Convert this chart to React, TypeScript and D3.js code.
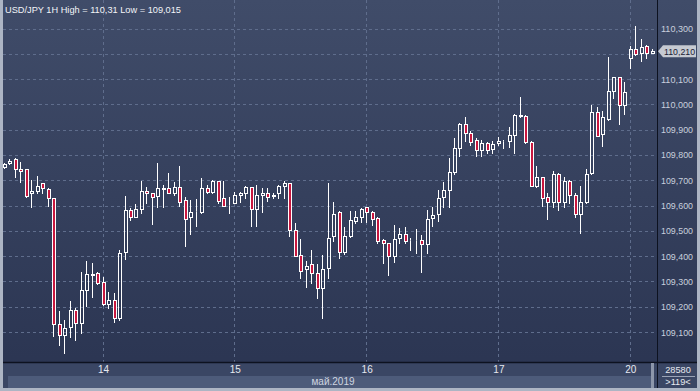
import React from "react";
import * as d3 from "d3";

// ---- data (USD/JPY, 1H candles) ----
const opens = [
  109.752, 109.768, 109.784, 109.745, 109.745, 109.650, 109.658, 109.689, 109.667, 109.630,
  109.132, 109.088, 109.120, 109.187, 109.136, 109.266, 109.329, 109.333, 109.298, 109.211,
  109.227, 109.156, 109.416, 109.582, 109.555, 109.586, 109.658, 109.650, 109.638, 109.667,
  109.669, 109.650, 109.673, 109.622, 109.555, 109.577, 109.575, 109.669, 109.654, 109.697,
  109.630, 109.602, 109.610, 109.642, 109.650, 109.673, 109.586, 109.642, 109.650, 109.640,
  109.650, 109.677, 109.689, 109.503, 109.405, 109.349, 109.369, 109.333, 109.274, 109.353,
  109.480, 109.575, 109.416, 109.480, 109.539, 109.555, 109.594, 109.575, 109.551, 109.464,
  109.452, 109.401, 109.472, 109.488, 109.464, 109.462, 109.464, 109.448, 109.551, 109.567,
  109.634, 109.662, 109.733, 109.828, 109.922, 109.887, 109.859, 109.820, 109.847, 109.824,
  109.847, 109.855, 109.855, 109.879, 109.958, 109.954, 109.851, 109.677, 109.713, 109.634,
  109.614, 109.725, 109.614, 109.697, 109.642, 109.567, 109.614, 109.729, 109.970, 109.883,
  109.942, 110.053, 110.108, 109.998, 110.183, 110.219, 110.203, 110.231, 110.205,
];
const highs = [
  109.768, 109.784, 109.786, 109.772, 109.745, 109.701, 109.717, 109.691, 109.671, 109.630,
  109.183, 109.148, 109.223, 109.195, 109.337, 109.381, 109.373, 109.339, 109.318, 109.258,
  109.254, 109.424, 109.638, 109.590, 109.606, 109.697, 109.673, 109.650, 109.768, 109.681,
  109.729, 109.693, 109.756, 109.634, 109.622, 109.626, 109.709, 109.681, 109.701, 109.697,
  109.697, 109.634, 109.654, 109.654, 109.677, 109.673, 109.681, 109.669, 109.669, 109.650,
  109.681, 109.697, 109.689, 109.531, 109.468, 109.381, 109.424, 109.369, 109.405, 109.689,
  109.614, 109.579, 109.515, 109.579, 109.579, 109.590, 109.594, 109.579, 109.555, 109.468,
  109.452, 109.523, 109.511, 109.515, 109.472, 109.507, 109.484, 109.582, 109.594, 109.662,
  109.693, 109.788, 109.867, 109.926, 109.950, 109.895, 109.867, 109.859, 109.851, 109.855,
  109.871, 109.859, 109.911, 109.962, 110.029, 109.958, 109.855, 109.756, 109.713, 109.650,
  109.737, 109.729, 109.713, 109.701, 109.650, 109.677, 109.745, 109.998, 109.990, 109.974,
  110.187, 110.108, 110.108, 110.088, 110.231, 110.310, 110.258, 110.235, 110.220,
];
const lows = [
  109.748, 109.764, 109.713, 109.693, 109.634, 109.594, 109.650, 109.650, 109.598, 109.084,
  109.049, 109.015, 109.080, 109.068, 109.096, 109.203, 109.239, 109.290, 109.207, 109.195,
  109.140, 109.148, 109.389, 109.543, 109.553, 109.571, 109.610, 109.527, 109.594, 109.594,
  109.648, 109.642, 109.598, 109.440, 109.488, 109.519, 109.571, 109.650, 109.650, 109.610,
  109.598, 109.571, 109.610, 109.614, 109.630, 109.519, 109.519, 109.575, 109.618, 109.630,
  109.630, 109.630, 109.480, 109.401, 109.314, 109.278, 109.294, 109.235, 109.156, 109.314,
  109.460, 109.393, 109.409, 109.476, 109.531, 109.535, 109.535, 109.523, 109.452, 109.373,
  109.326, 109.377, 109.452, 109.452, 109.424, 109.412, 109.337, 109.412, 109.519, 109.539,
  109.594, 109.594, 109.725, 109.796, 109.855, 109.839, 109.796, 109.796, 109.808, 109.808,
  109.839, 109.828, 109.832, 109.808, 109.950, 109.849, 109.677, 109.673, 109.598, 109.547,
  109.594, 109.582, 109.594, 109.610, 109.555, 109.492, 109.610, 109.725, 109.875, 109.835,
  109.938, 110.025, 109.922, 109.962, 110.144, 110.195, 110.171, 110.183, 110.205,
];
const closes = [
  109.764, 109.776, 109.745, 109.737, 109.638, 109.656, 109.677, 109.669, 109.630, 109.132,
  109.088, 109.116, 109.187, 109.136, 109.266, 109.329, 109.327, 109.294, 109.211, 109.227,
  109.156, 109.412, 109.582, 109.555, 109.586, 109.658, 109.650, 109.634, 109.669, 109.671,
  109.650, 109.673, 109.614, 109.547, 109.575, 109.579, 109.669, 109.654, 109.697, 109.618,
  109.598, 109.602, 109.642, 109.650, 109.673, 109.586, 109.642, 109.650, 109.634, 109.638,
  109.677, 109.689, 109.503, 109.401, 109.341, 109.361, 109.333, 109.274, 109.349, 109.472,
  109.567, 109.416, 109.480, 109.543, 109.555, 109.586, 109.575, 109.547, 109.460, 109.452,
  109.401, 109.468, 109.488, 109.460, 109.464, 109.464, 109.448, 109.547, 109.563, 109.630,
  109.662, 109.733, 109.828, 109.922, 109.887, 109.851, 109.820, 109.847, 109.820, 109.843,
  109.855, 109.857, 109.879, 109.958, 109.955, 109.851, 109.677, 109.713, 109.630, 109.614,
  109.725, 109.614, 109.697, 109.642, 109.567, 109.614, 109.725, 109.970, 109.875, 109.950,
  110.053, 110.108, 109.998, 110.049, 110.219, 110.199, 110.227, 110.203, 110.210,
];

// trading sessions: start time and number of hourly bars
const sessionStarts = ["2019-05-13T06:00:00", "2019-05-20T00:00:00"];
const sessionBars = [114, 5];

const priceTicks = [109.1, 109.2, 109.3, 109.4, 109.5, 109.6, 109.7, 109.8, 109.9, 110.0, 110.1, 110.2, 110.3];
const titleText = "USD/JPY 1H High = 110,31 Low = 109,015";
const monthLabel = "май.2019";
const volumeText = "28580";
const barsText = ">119<";
const lastPrice = 110.21;

// ---- layout ----
const W = 700;
const H = 391;
const plotRight = 657;
const plotBottom = 362;
const FONT = "'Liberation Sans', Arial, sans-serif";

const fmt = (v: number) => d3.format(".3f")(v).replace(".", ",");

export default function App() {
  const times: Date[] = [];
  sessionStarts.forEach((s, k) => {
    const t0 = new Date(s);
    for (let j = 0; j < sessionBars[k]; j++) times.push(d3.timeHour.offset(t0, j));
  });
  const n = opens.length;
  const x = d3.scaleLinear().domain([0, n - 1]).range([4.7, 652.7]);
  const y = d3.scaleLinear().domain([109.1, 110.3]).range([332, 28.5]);
  const py = (v: number) => Math.round(y(v)) + 0.5;

  const dayIdx = times.map((t, i) => (t.getHours() === 0 ? i : -1)).filter((i) => i >= 0);

  const candles = d3.range(n).map((i) => {
    const o = opens[i], c = closes[i], h = highs[i], l = lows[i];
    const cx = Math.round(x(i));
    const bull = c >= o;
    const top = py(Math.max(o, c));
    const bot = py(Math.min(o, c));
    const yh = py(h);
    const yl = py(l);
    return (
      <g key={i}>
        {yh < top && <line x1={cx - 0.5} x2={cx - 0.5} y1={yh - 0.5} y2={top} stroke="#ffffff" strokeWidth={1} />}
        {yl > bot && <line x1={cx - 0.5} x2={cx - 0.5} y1={bot} y2={yl + 0.5} stroke="#ffffff" strokeWidth={1} />}
        <rect
          x={cx - 1.5}
          y={top}
          width={3}
          height={Math.max(0, bot - top)}
          fill={bull ? "none" : "#c8173f"}
          stroke="#ffffff"
          strokeWidth={1}
        />
      </g>
    );
  });

  const lp = y(lastPrice);
  const axisTicks = priceTicks.filter((p) => Math.abs(y(p) - lp) > 9);

  return (
    <svg width={W} height={H} style={{ position: "absolute", left: 0, top: 0, display: "block" }} fontFamily={FONT}>
      <defs>
        <linearGradient id="bg" x1="0" y1="0" x2="0" y2="1">
          <stop offset="0%" stopColor="#404c69" />
          <stop offset="100%" stopColor="#2a3451" />
        </linearGradient>
      </defs>
      <rect x={0} y={0} width={W} height={H} fill="url(#bg)" />

      {/* grid */}
      {priceTicks.map((p) => (
        <line key={"h" + p} x1={3} x2={plotRight} y1={py(p)} y2={py(p)} stroke="#5f6d8c" strokeWidth={1} strokeDasharray="3,3" />
      ))}
      {dayIdx.map((i) => (
        <line key={"v" + i} x1={Math.round(x(i)) - 0.5} x2={Math.round(x(i)) - 0.5} y1={0} y2={plotBottom} stroke="#5f6d8c" strokeWidth={1} strokeDasharray="3,3" />
      ))}

      {candles}

      {/* title */}
      <text x={5} y={13} fill="#f2f4f8" fontSize={9.6} textLength={176} lengthAdjust="spacingAndGlyphs">{titleText}</text>

      {/* bottom strip */}
      <rect x={0} y={plotBottom} width={W} height={H - plotBottom} fill="#3a4664" />
      <rect x={8} y={376} width={644} height={12} fill="#4d5b7a" />
      <line x1={0} x2={W} y1={plotBottom + 0.5} y2={plotBottom + 0.5} stroke="#0d1220" strokeWidth={1.5} />
      <rect x={651} y={363} width={3} height={25} fill="#8c96aa" />
      {dayIdx.map((i) => (
        <text key={"d" + i} x={x(i)} y={373} fill="#e6e9f0" fontSize={10} textAnchor="middle">
          {d3.timeFormat("%-d")(times[i])}
        </text>
      ))}
      <text x={333} y={385} fill="#cfd5e0" fontSize={10} textAnchor="middle">{monthLabel}</text>

      {/* right axis */}
      <line x1={plotRight + 0.5} x2={plotRight + 0.5} y1={0} y2={H} stroke="#0d1220" strokeWidth={1} />
      {axisTicks.map((p) => (
        <text key={"t" + p} x={661} y={y(p) + 3.5} fill="#c9d0dd" fontSize={9.2} textLength={32} lengthAdjust="spacingAndGlyphs">{fmt(p)}</text>
      ))}
      <text x={678} y={373} fill="#e6e9f0" fontSize={9.2} textAnchor="middle">{volumeText}</text>
      <line x1={662} x2={695} y1={376.5} y2={376.5} stroke="#9aa3b6" strokeWidth={1} />
      <text x={678} y={385} fill="#e6e9f0" fontSize={9.2} textAnchor="middle">{barsText}</text>

      {/* last price marker */}
      <polygon
        points={`658,${lp} 663,${lp - 6} 696,${lp - 6} 696,${lp + 6} 663,${lp + 6}`}
        fill="#c6cad2"
      />
      <text x={664} y={lp + 3.5} fill="#1a2033" fontSize={9.2} textLength={31} lengthAdjust="spacingAndGlyphs">{fmt(lastPrice)}</text>

      {/* outer frame */}
      <rect x={0} y={0} width={3} height={H} fill="#adb5c4" />
      <rect x={697} y={0} width={3} height={H} fill="#adb5c4" />
      <rect x={0} y={388} width={W} height={3} fill="#adb5c4" />
    </svg>
  );
}
